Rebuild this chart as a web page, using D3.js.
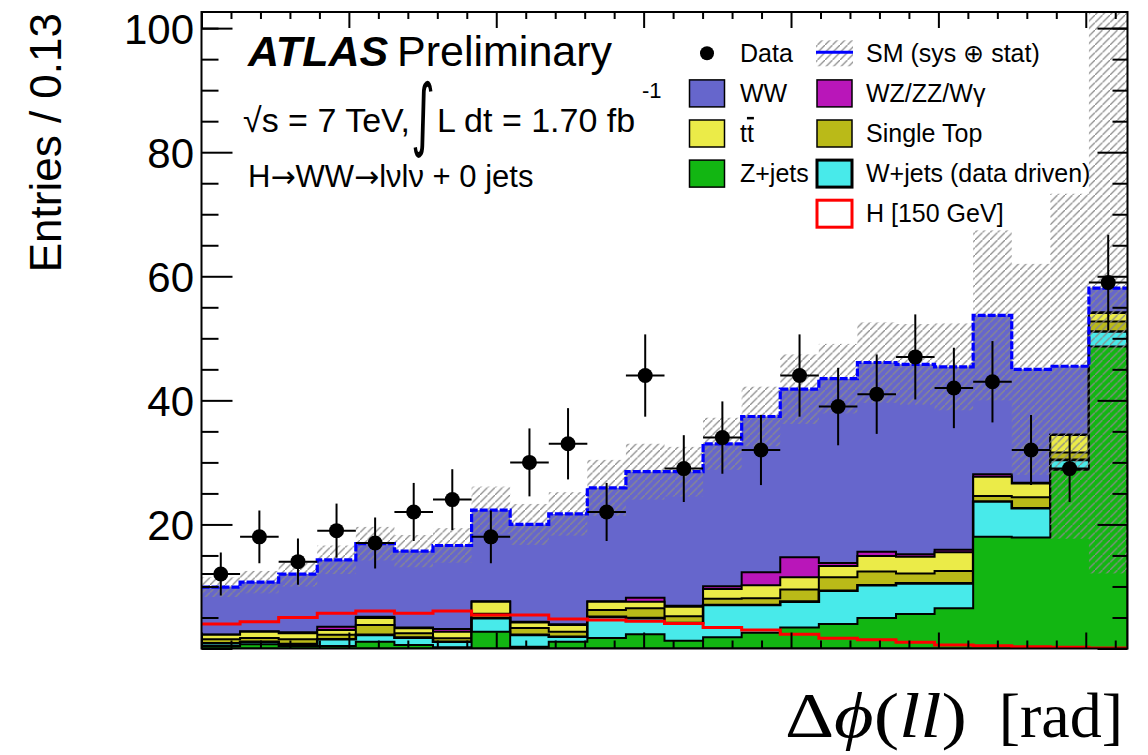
<!DOCTYPE html>
<html><head><meta charset="utf-8">
<script src="https://cdn.jsdelivr.net/npm/d3@7"></script>
<style>
body{margin:0;background:#fff}
svg{display:block}
text{font-family:"Liberation Sans",Arial,Helvetica,sans-serif;fill:#000}
</style>
</head><body>
<svg id="c" width="1148" height="755"></svg>
<script>
// ---------------- data ----------------
const nBins = 24;
const xMin = 0, xMax = Math.PI;
const yMax = 102.6;
const dataCounts = [12,18,14,19,17,22,24,18,30,33,22,44,29,34,32,44,39,41,47,42,43,32,29,59];
const zjets     = [0.4,0.7,0.4,0.4,1.1,0.55,0.2,2.7,0.3,1.1,1.7,2.3,1.25,1.8,2.55,3.4,3.95,4.9,5.55,6.5,18.0,17.9,28.8,48.7];
const wjets     = [0.45,0.4,0.3,1.1,1.1,1.2,0.9,2.2,1.9,0.8,3.4,2.6,2.85,5.2,4.45,4.15,5.35,5.3,4.95,4.0,5.7,4.7,1.6,2.4];
const singleTop = [0.65,0.6,0.8,0.7,1.6,0.7,0.55,0.7,1.1,0.8,1.1,1.6,1.1,1.0,1.1,1.95,2.2,2.2,1.6,2.0,0.9,1.8,1.2,1.6];
const ttbar     = [0.7,1.0,0.95,0.8,1.1,0.8,1.05,1.95,0.9,1.1,1.35,1.05,1.55,1.6,2.1,2.0,1.8,2.5,2.7,3.0,3.1,2.2,2.8,1.4];
const diboson   = [0.05,0.1,0.15,0.5,0.2,0.15,0.45,0.05,0.1,0.1,0.05,0.65,0.15,0.45,2.1,3.2,0.5,0.7,0.4,0.4,0.4,0.1,0.1,0.1];
const wwVals    = [7.65,7.9,9.4,10.8,11.8,12.3,13.45,14.7,15.7,17.8,18.3,20.3,21.6,22.95,25.1,27.1,29.7,30.5,30.6,29.5,25.6,18.3,11.0,3.9];
const higgs     = [3.95,4.3,5.0,5.7,6.05,5.7,6.05,5.4,5.4,4.75,4.6,4.4,4.05,3.4,3.0,2.3,1.65,1.4,1.0,0.55,0.45,0.3,0.2,0.1];
const smErr     = [1.6,1.8,2.0,2.3,2.7,2.6,2.8,3.8,3.3,3.5,4.5,4.5,4.0,4.2,4.8,5.6,5.6,6.5,6.5,7.0,13.7,17.0,27.8,46.0];

const yMajorTicks = [0,20,40,60,80,100];
const yTickLabels = ["","20","40","60","80","100"];
const yMinorTicks = [5,10,15,25,30,35,45,50,55,65,70,75,85,90,95,100];
const xMajorTicks = [0,0.5,1,1.5,2,2.5,3];
const xMinorTicks = [0.1,0.2,0.3,0.4,0.6,0.7,0.8,0.9,1.1,1.2,1.3,1.4,1.6,1.7,1.8,1.9,2.1,2.2,2.3,2.4,2.6,2.7,2.8,2.9,3.1];

const colors = {ww:"#6666cc", tt:"#ebeb48", st:"#baba18", zj:"#12b612", wj:"#48eaea", vv:"#b916b9"};

// ---------------- setup ----------------
const svg = d3.select("#c");
const M = {l:201.5, r:1127.5, t:12, b:648.5};
const x = d3.scaleLinear().domain([xMin,xMax]).range([M.l,M.r]);
const y = d3.scaleLinear().domain([0,yMax]).range([M.b,M.t]);
const bw = (xMax-xMin)/nBins;
const edges = d3.range(nBins+1).map(i=>xMin+i*bw);
const centers = d3.range(nBins).map(i=>xMin+(i+0.5)*bw);

const defs = svg.append("defs");
defs.append("clipPath").attr("id","plot").append("rect")
  .attr("x",M.l).attr("y",M.t).attr("width",M.r-M.l).attr("height",M.b-M.t);
const pat = defs.append("pattern").attr("id","hatch").attr("patternUnits","userSpaceOnUse")
  .attr("width",7.5).attr("height",7.5);
pat.append("path").attr("d","M-1,8.5 L8.5,-1 M-2,1 L1,-2 M6.5,9.5 L9.5,6.5")
  .attr("stroke","#8a8a8a").attr("stroke-width",1.3).attr("fill","none");

const comps = [
  {key:"zj", vals:zjets},
  {key:"wj", vals:wjets},
  {key:"st", vals:singleTop},
  {key:"tt", vals:ttbar},
  {key:"vv", vals:diboson},
  {key:"ww", vals:wwVals}
];
let cum = new Array(nBins).fill(0);
comps.forEach(c=>{ c.top = cum.map((v,i)=>v+c.vals[i]); cum = c.top; });
const total = cum;

function pts(arr){ const p = arr.map((v,i)=>({e:edges[i], v})); p.push({e:edges[nBins], v:arr[nBins-1]}); return p; }
const area = d3.area().curve(d3.curveStepAfter).x(d=>x(d.e)).y0(y(0)).y1(d=>y(d.v));
const line = d3.line().curve(d3.curveStepAfter).x(d=>x(d.e)).y(d=>y(d.v));

const g = svg.append("g").attr("clip-path","url(#plot)");

comps.slice().reverse().forEach(c=>{
  g.append("path").attr("d",area(pts(c.top)))
    .attr("fill",colors[c.key])
    .attr("stroke", c.key==="ww" ? "none" : "#000")
    .attr("stroke-width", c.key==="wj" ? 2.6 : 2);
});

g.append("path").attr("d",line(pts(higgs))).attr("fill","none").attr("stroke","#ff0000").attr("stroke-width",3);

g.selectAll("rect.band").data(d3.range(nBins)).join("rect")
  .attr("x",i=>x(edges[i])).attr("width",i=>x(edges[i+1])-x(edges[i]))
  .attr("y",i=>y(total[i]+smErr[i])).attr("height",i=>y(total[i]-smErr[i])-y(total[i]+smErr[i]))
  .attr("fill","url(#hatch)");

g.append("path").attr("d",line(pts(total))).attr("fill","none").attr("stroke","#0000ff")
  .attr("stroke-width",3.2).attr("stroke-dasharray","8,2");

const dg = g.append("g");
d3.range(nBins).forEach(i=>{
  const n = dataCounts[i], e = Math.sqrt(n);
  dg.append("line").attr("x1",x(centers[i])).attr("x2",x(centers[i]))
    .attr("y1",y(n+e)).attr("y2",y(n-e)).attr("stroke","#000").attr("stroke-width",2);
  dg.append("line").attr("x1",x(edges[i])).attr("x2",x(edges[i+1]))
    .attr("y1",y(n)).attr("y2",y(n)).attr("stroke","#000").attr("stroke-width",2);
  dg.append("circle").attr("cx",x(centers[i])).attr("cy",y(n)).attr("r",7.5).attr("fill","#000");
});

// ---------------- axes ----------------
function styleAxis(sel){ sel.select(".domain").remove(); sel.selectAll(".tick line").attr("stroke","#000").attr("stroke-width",2); }
svg.append("g").attr("transform",`translate(${M.l},0)`)
  .call(d3.axisLeft(y).tickValues(yMajorTicks).tickSize(-31).tickPadding(7.5).tickFormat((d,i)=>yTickLabels[i]))
  .call(styleAxis)
  .call(s=>s.selectAll("text").attr("font-size",42).attr("font-family","Liberation Sans, Arial, sans-serif").attr("dy","0.36em"));
svg.append("g").attr("transform",`translate(${M.l},0)`)
  .call(d3.axisLeft(y).tickValues(yMinorTicks).tickSize(-17).tickFormat("")).call(styleAxis);
svg.append("g").attr("transform",`translate(${M.r},0)`)
  .call(d3.axisRight(y).tickValues(yMajorTicks).tickSize(-30).tickFormat("")).call(styleAxis);
svg.append("g").attr("transform",`translate(${M.r},0)`)
  .call(d3.axisRight(y).tickValues(yMinorTicks).tickSize(-15).tickFormat("")).call(styleAxis);
svg.append("g").attr("transform",`translate(0,${M.b})`)
  .call(d3.axisBottom(x).tickValues(xMajorTicks).tickSize(-16).tickFormat("")).call(styleAxis);
svg.append("g").attr("transform",`translate(0,${M.b})`)
  .call(d3.axisBottom(x).tickValues(xMinorTicks).tickSize(-8).tickFormat("")).call(styleAxis);
svg.append("g").attr("transform",`translate(0,${M.t})`)
  .call(d3.axisTop(x).tickValues(xMajorTicks).tickSize(-16).tickFormat("")).call(styleAxis);
svg.append("g").attr("transform",`translate(0,${M.t})`)
  .call(d3.axisTop(x).tickValues(xMinorTicks).tickSize(-7).tickFormat("")).call(styleAxis);

svg.append("rect").attr("x",M.l).attr("y",M.t).attr("width",M.r-M.l).attr("height",M.b-M.t)
  .attr("fill","none").attr("stroke","#000").attr("stroke-width",2);

// axis titles
svg.append("text").attr("transform","translate(61,13) rotate(-90)").attr("text-anchor","end")
  .attr("font-size",44).text("Entries / 0.13");

const serif = "'Liberation Serif','Times New Roman',serif";
const xt = svg.append("text").attr("x",785).attr("y",737).attr("font-size",64)
  .attr("textLength",182).attr("lengthAdjust","spacingAndGlyphs")
  .style("font-family",serif);
xt.append("tspan").text("Δ");
xt.append("tspan").attr("font-style","italic").text("ϕ");
xt.append("tspan").text("(");
xt.append("tspan").attr("font-style","italic").text("ll");
xt.append("tspan").text(")");
svg.append("text").attr("x",1123).attr("y",737).attr("font-size",64).attr("text-anchor","end")
  .style("font-family",serif).text("[rad]");

// ---------------- annotations ----------------
svg.append("text").attr("x",248).attr("y",65.5).attr("font-size",43).attr("font-weight","bold").attr("font-style","italic").text("ATLAS");
svg.append("text").attr("x",397).attr("y",65.5).attr("font-size",43).text("Preliminary");
svg.append("text").attr("x",243).attr("y",132).attr("font-size",34).text("√s = 7 TeV,");
svg.append("text").attr("transform","translate(411,141) scale(0.55,0.95)").attr("font-size",84)
  .style("font-family","'DejaVu Sans',sans-serif").text("∫");
svg.append("text").attr("x",437).attr("y",132).attr("font-size",34).text("L dt = 1.70 fb");
svg.append("text").attr("x",642).attr("y",98).attr("font-size",22).text("-1");
const hl = svg.append("text").attr("x",248).attr("y",187).attr("font-size",31);
hl.append("tspan").text("H");
hl.append("tspan").style("font-family","'DejaVu Sans',sans-serif").attr("font-size",30).text("→");
hl.append("tspan").text("WW");
hl.append("tspan").style("font-family","'DejaVu Sans',sans-serif").attr("font-size",30).text("→");
hl.append("tspan").text("lνlν + 0 jets");

// ---------------- legend ----------------
const legendCol1 = [
  {label:"Data", type:"marker"},
  {label:"WW", type:"box", fill:colors.ww},
  {label:"tt", type:"box", fill:colors.tt, bar:true},
  {label:"Z+jets", type:"box", fill:colors.zj}
];
const legendCol2 = [
  {label:"SM (sys ⊕ stat)", type:"band"},
  {label:"WZ/ZZ/Wγ", type:"box", fill:colors.vv},
  {label:"Single Top", type:"box", fill:colors.st},
  {label:"W+jets (data driven)", type:"box", fill:colors.wj, thick:true},
  {label:"H [150 GeV]", type:"hbox"}
];
const rowY0 = 53.3, rowDY = 40.1;
function drawLegend(items, bx, tx){
  items.forEach((it,i)=>{
    const cy = rowY0 + i*rowDY;
    if(it.type==="marker"){
      svg.append("circle").attr("cx",bx+18.5).attr("cy",cy).attr("r",7).attr("fill","#000");
    } else if(it.type==="band"){
      svg.append("rect").attr("x",bx).attr("y",cy-13).attr("width",37).attr("height",26).attr("fill","url(#hatch)");
      svg.append("line").attr("x1",bx).attr("x2",bx+37).attr("y1",cy-1).attr("y2",cy-1).attr("stroke","#0000ff").attr("stroke-width",3);
    } else if(it.type==="hbox"){
      svg.append("rect").attr("x",bx+1).attr("y",cy-13.5).attr("width",35).attr("height",27).attr("fill","#fff").attr("stroke","#ff0000").attr("stroke-width",3);
    } else {
      svg.append("rect").attr("x",bx+1).attr("y",cy-13.5).attr("width",35).attr("height",27).attr("fill",it.fill)
        .attr("stroke","#000").attr("stroke-width",it.thick?3:1.5);
    }
    const t = svg.append("text").attr("x",tx).attr("y",cy+8.4).attr("font-size",25);
    if(it.bar){
      t.append("tspan").text("t");
      t.append("tspan").style("text-decoration","overline").text("t");
    } else t.text(it.label);
  });
}
drawLegend(legendCol1, 688.5, 740);
drawLegend(legendCol2, 816, 866);
</script>
</body></html>
